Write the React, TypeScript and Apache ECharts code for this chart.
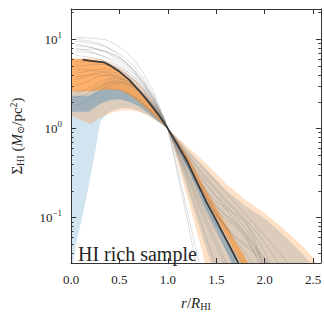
import React, { useEffect, useRef } from "react";
import * as echarts from "echarts";

// ---------- axes ----------
const X_MIN = 0;
const X_MAX = 2.58;
const X_TICKS = [0, 0.5, 1, 1.5, 2, 2.5];
const Y_MIN = 0.031;
const Y_MAX = 22;
const Y_MAJOR = [0.1, 1, 10];
const Y_MINOR = [0.04, 0.05, 0.06, 0.07, 0.08, 0.09, 0.2, 0.3, 0.4, 0.5, 0.6, 0.7, 0.8, 0.9, 2, 3, 4, 5, 6, 7, 8, 9, 20];

// ---------- bands (log10 Sigma_HI) ----------
const orangeWideX = [0, 0.1, 0.2, 0.3, 0.4, 0.5, 0.6, 0.7, 0.8, 0.9, 1.0, 1.1, 1.2, 1.3, 1.35, 1.4, 1.45, 1.6, 1.8, 2.0, 2.2, 2.4, 2.5, 2.56];
const orangeWideHi = [0.79, 0.79, 0.79, 0.78, 0.74, 0.68, 0.6, 0.51, 0.38, 0.22, 0.0, -0.1, -0.2, -0.3, -0.35, -0.4, -0.45, -0.62, -0.8, -0.95, -1.13, -1.33, -1.45, -1.6];
const orangeWideLo = [0.14, 0.1, 0.05, 0.12, 0.17, 0.2, 0.21, 0.19, 0.14, 0.07, 0.0, -0.38, -0.77, -1.16, -1.36, -1.6, -2.5, -2.5, -2.5, -2.5, -2.5, -2.5, -2.5, -2.5];

const blueWideX = [0, 0.05, 0.1, 0.15, 0.2, 0.25, 0.3, 0.35, 0.4, 0.5, 0.6, 0.7, 0.8, 0.9, 1.0, 1.1, 1.2, 1.3, 1.4, 1.45, 1.6, 1.8, 2.0, 2.2, 2.4, 2.5];
const blueWideHi = [0.43, 0.43, 0.43, 0.43, 0.44, 0.47, 0.5, 0.53, 0.56, 0.55, 0.5, 0.41, 0.29, 0.16, 0.0, -0.12, -0.24, -0.35, -0.46, -0.52, -0.69, -0.87, -1.01, -1.2, -1.42, -1.55];
const blueWideLo = [-1.7, -1.3, -1.07, -0.82, -0.54, -0.26, 0.07, 0.14, 0.19, 0.23, 0.23, 0.2, 0.15, 0.08, 0.0, -0.34, -0.68, -1.02, -1.36, -1.53, -2.5, -2.5, -2.5, -2.5, -2.5, -2.5];

const blueNarrowX = [0, 0.1, 0.18, 0.25, 0.3, 0.4, 0.5, 0.6, 0.7, 0.8, 0.9, 1.0, 1.1, 1.2, 1.3, 1.4, 1.5, 1.6, 1.7];
const blueNarrowHi = [0.37, 0.37, 0.37, 0.41, 0.43, 0.45, 0.44, 0.4, 0.33, 0.24, 0.13, 0.0, -0.18, -0.37, -0.6, -0.83, -1.03, -1.24, -1.45];
const blueNarrowLo = [0.19, 0.19, 0.19, 0.24, 0.28, 0.32, 0.33, 0.3, 0.25, 0.17, 0.08, 0.0, -0.23, -0.44, -0.68, -0.93, -1.14, -1.37, -1.6];

const orangeNarrowX = [0, 0.1, 0.2, 0.3, 0.4, 0.5, 0.6, 0.7, 0.8, 0.9, 1.0, 1.1, 1.2, 1.3, 1.4, 1.5, 1.6, 1.7, 1.8, 1.85];
const orangeNarrowHi = [0.78, 0.78, 0.775, 0.76, 0.71, 0.64, 0.55, 0.44, 0.31, 0.16, 0.0, -0.14, -0.3, -0.5, -0.7, -0.89, -1.08, -1.27, -1.45, -1.56];
const orangeNarrowLo = [0.42, 0.42, 0.42, 0.43, 0.44, 0.43, 0.38, 0.3, 0.2, 0.1, 0.0, -0.18, -0.37, -0.59, -0.8, -1.0, -1.2, -1.4, -1.6, -1.7];

// ---------- median ----------
const medianX = [0.12, 0.2, 0.34, 0.4, 0.5, 0.6, 0.7, 0.8, 0.9, 1.0, 1.1, 1.2, 1.3, 1.4, 1.5, 1.6, 1.7, 1.78];
const medianLog = [0.773, 0.76, 0.744, 0.71, 0.64, 0.55, 0.43, 0.3, 0.16, 0.0, -0.18, -0.37, -0.6, -0.83, -1.03, -1.24, -1.45, -1.62];

// ---------- individual profiles (log10 Sigma_HI on profileX) ----------
const profileX = [0.05, 0.15, 0.25, 0.35, 0.45, 0.55, 0.65, 0.75, 0.85, 0.95, 1.0, 1.1, 1.2, 1.3, 1.4, 1.5, 1.6, 1.7, 1.8, 1.9, 2.0, 2.1, 2.2, 2.3];
const prof01 = [1.02, 1.02, 1.01, 1.0, 0.95, 0.88, 0.77, 0.62, 0.42, 0.15, 0, -0.12, -0.24, -0.36, -0.48, -0.6, -0.72, -0.84, -0.96, -1.08, -1.2, -1.33, -1.46, -1.6];
const prof02 = [0.98, 0.97, 0.95, 0.92, 0.87, 0.8, 0.7, 0.56, 0.38, 0.14, 0, -0.15, -0.3, -0.44, -0.58, -0.7, -0.82, -0.92, -1.05, -1.2, -1.38, -1.6];
const prof03 = [0.93, 0.92, 0.9, 0.87, 0.82, 0.75, 0.66, 0.53, 0.36, 0.13, 0, -0.17, -0.34, -0.5, -0.64, -0.76, -0.86, -0.98, -1.12, -1.3, -1.55];
const prof04 = [0.9, 0.88, 0.85, 0.8, 0.74, 0.67, 0.58, 0.47, 0.32, 0.12, 0, -0.2, -0.38, -0.56, -0.72, -0.86, -0.98, -1.08, -1.2, -1.4, -1.6];
const prof05 = [0.86, 0.86, 0.84, 0.81, 0.77, 0.7, 0.61, 0.49, 0.33, 0.12, 0, -0.18, -0.36, -0.54, -0.7, -0.82, -0.9, -0.96, -1.05, -1.25, -1.6];
const prof06 = [0.82, 0.81, 0.79, 0.76, 0.72, 0.66, 0.58, 0.46, 0.31, 0.11, 0, -0.22, -0.44, -0.64, -0.82, -0.98, -1.12, -1.26, -1.4, -1.55];
const prof07 = [0.75, 0.76, 0.76, 0.74, 0.7, 0.64, 0.55, 0.44, 0.3, 0.11, 0, -0.2, -0.4, -0.6, -0.78, -0.92, -1.02, -1.1, -1.22, -1.42, -1.6];
const prof08 = [0.7, 0.71, 0.72, 0.72, 0.69, 0.63, 0.55, 0.44, 0.29, 0.1, 0, -0.24, -0.48, -0.7, -0.9, -1.08, -1.24, -1.4, -1.56];
const prof09 = [0.62, 0.64, 0.66, 0.67, 0.66, 0.62, 0.54, 0.43, 0.28, 0.1, 0, -0.19, -0.38, -0.58, -0.78, -0.96, -1.1, -1.22, -1.3, -1.36, -1.45, -1.6];
const prof10 = [0.55, 0.58, 0.62, 0.64, 0.63, 0.59, 0.52, 0.41, 0.27, 0.1, 0, -0.26, -0.52, -0.78, -1.02, -1.26, -1.5, -1.7];
const prof11 = [0.48, 0.52, 0.57, 0.6, 0.6, 0.57, 0.5, 0.4, 0.26, 0.09, 0, -0.3, -0.6, -0.92, -1.24, -1.56];
const prof12 = [0.4, 0.44, 0.5, 0.55, 0.57, 0.55, 0.49, 0.39, 0.26, 0.09, 0, -0.5, -1.02, -1.56];
const prof13 = [0.35, 0.38, 0.44, 0.5, 0.53, 0.52, 0.47, 0.38, 0.25, 0.09, 0, -0.45, -0.92, -1.4, -1.9];
const prof14 = [0.66, 0.66, 0.65, 0.63, 0.6, 0.55, 0.48, 0.39, 0.26, 0.09, 0, -0.22, -0.42, -0.62, -0.8, -0.96, -1.1, -1.22, -1.32, -1.4, -1.48, -1.56];
const prof15 = [0.95, 0.93, 0.9, 0.86, 0.8, 0.73, 0.63, 0.5, 0.34, 0.12, 0, -0.16, -0.32, -0.48, -0.62, -0.76, -0.9, -1.04, -1.18, -1.32, -1.46, -1.6];
const prof16 = [0.58, 0.6, 0.61, 0.6, 0.58, 0.54, 0.48, 0.39, 0.26, 0.09, 0, -0.28, -0.55, -0.82, -1.08, -1.32, -1.56];
const prof17 = [0.26, 0.3, 0.38, 0.46, 0.51, 0.51, 0.46, 0.37, 0.25, 0.09, 0, -0.25, -0.5, -0.74, -0.96, -1.16, -1.34, -1.52];
const prof18 = [1.0, 0.99, 0.97, 0.93, 0.86, 0.76, 0.64, 0.5, 0.33, 0.12, 0, -0.14, -0.28, -0.42, -0.55, -0.68, -0.8, -0.91, -1.02, -1.14, -1.28, -1.45, -1.62];
const prof19 = [0.88, 0.89, 0.89, 0.87, 0.83, 0.76, 0.66, 0.52, 0.35, 0.13, 0, -0.21, -0.41, -0.6, -0.76, -0.88, -0.97, -1.06, -1.18, -1.34, -1.55];
const profiles = [prof01, prof02, prof03, prof04, prof05, prof06, prof07, prof08, prof09, prof10, prof11, prof12, prof13, prof14, prof15, prof16, prof17, prof18, prof19];

const FONT = '"Liberation Serif", "DejaVu Serif", serif';
const INK = "#262626";
const BLUE = "#1f77b4";
const ORANGE = "#ff7f0e";

const toSigma = (l: number) => Math.pow(10, l);

function band(name: string, xs: number[], lo: number[], hi: number[], color: string, opacity: number, z: number) {
  const data = xs.map((x, i) => [x, toSigma(lo[i]), toSigma(hi[i])]);
  return {
    type: "custom",
    name,
    data,
    z,
    silent: true,
    clip: true,
    encode: { x: 0, y: [1, 2] },
    renderItem: (params: any, api: any) => {
      if (params.dataIndex !== 0) return null;
      const top = data.map((d) => api.coord([d[0], d[2]]));
      const bot = data.map((d) => api.coord([d[0], d[1]])).reverse();
      const cs = params.coordSys;
      return {
        type: "polygon",
        shape: { points: top.concat(bot) },
        style: { fill: color, opacity },
        clipPath: { type: "rect", shape: { x: cs.x, y: cs.y, width: cs.width, height: cs.height } },
      };
    },
  };
}

export default function App() {
  const ref = useRef<HTMLDivElement>(null);
  useEffect(() => {
    if (!ref.current) return;
    const chart = echarts.init(ref.current, undefined, { renderer: "svg" });
    const axisLine = { show: true, lineStyle: { color: "#333", width: 1 } };
    const yBase: any = { type: "log", logBase: 10, min: Y_MIN, max: Y_MAX, splitLine: { show: false }, z: 10 };
    const xBase: any = { type: "value", min: X_MIN, max: X_MAX, splitLine: { show: false }, z: 10 };
    const profileSeries = profiles.map((p, k) => ({
      type: "line",
      name: "p" + k,
      data: p.map((l, i) => [profileX[i], toSigma(l)]),
      showSymbol: false,
      symbol: "none",
      silent: true,
      z: 6,
      lineStyle: { color: "rgba(110,110,110,0.33)", width: 0.7 },
    }));
    chart.setOption({
      animation: false,
      textStyle: { fontFamily: FONT },
      grid: { left: 63, right: 3, top: 9, bottom: 48 },
      xAxis: [
        {
          ...xBase,
          position: "bottom",
          axisLine,
          axisTick: { show: true, inside: true, length: 5, customValues: X_TICKS, lineStyle: { color: "#333" } },
          axisLabel: {
            customValues: X_TICKS,
            formatter: (v: number) => v.toFixed(1),
            fontFamily: FONT,
            fontSize: 13,
            color: INK,
            margin: 10,
          },
          name: "{i|r}{t|/}{i|R}{s|HI}",
          nameLocation: "middle",
          nameGap: 31,
          nameTextStyle: {
            rich: {
              i: { fontFamily: FONT, fontSize: 15, fontStyle: "italic", color: INK },
              t: { fontFamily: FONT, fontSize: 15, color: INK },
              s: { fontFamily: FONT, fontSize: 10, color: INK, padding: [7, 0, 0, 0] },
            },
          },
        },
        {
          ...xBase,
          position: "top",
          axisLine,
          axisTick: { show: true, inside: true, length: 5, customValues: X_TICKS, lineStyle: { color: "#333" } },
          axisLabel: { show: false },
        },
      ],
      yAxis: [
        {
          ...yBase,
          position: "left",
          axisLine,
          axisTick: { show: true, inside: true, length: 5, customValues: Y_MAJOR, lineStyle: { color: "#333" } },
          axisLabel: {
            customValues: Y_MAJOR,
            margin: 9,
            formatter: (v: number) => {
              const e = Math.round(Math.log10(v));
              return "{b|10}{s|" + (e < 0 ? "\u2212" + -e : String(e)) + "}";
            },
            rich: {
              b: { fontFamily: FONT, fontSize: 13, color: INK },
              s: { fontFamily: FONT, fontSize: 9, color: INK, padding: [0, 0, 9, 0] },
            },
          },
          name: "{t|\u03a3}{s|HI}{t| (}{i|M}{s|\u2299}{t|/pc}{u|2}{t|)}",
          nameLocation: "middle",
          nameRotate: 90,
          nameGap: 45,
          nameTextStyle: {
            rich: {
              t: { fontFamily: FONT, fontSize: 15, color: INK },
              i: { fontFamily: FONT, fontSize: 15, fontStyle: "italic", color: INK },
              s: { fontFamily: FONT, fontSize: 10, color: INK, padding: [7, 0, 0, 0] },
              u: { fontFamily: FONT, fontSize: 10, color: INK, padding: [0, 0, 8, 0] },
            },
          },
        },
        {
          ...yBase,
          position: "left",
          axisLine: { show: false },
          axisTick: { show: true, inside: true, length: 2.5, customValues: Y_MINOR, lineStyle: { color: "#333" } },
          axisLabel: { show: false },
        },
        {
          ...yBase,
          position: "right",
          axisLine,
          axisTick: { show: true, inside: true, length: 5, customValues: Y_MAJOR, lineStyle: { color: "#333" } },
          axisLabel: { show: false },
        },
        {
          ...yBase,
          position: "right",
          axisLine: { show: false },
          axisTick: { show: true, inside: true, length: 2.5, customValues: Y_MINOR, lineStyle: { color: "#333" } },
          axisLabel: { show: false },
        },
      ],
      series: [
        band("blueWide", blueWideX, blueWideLo, blueWideHi, BLUE, 0.2, 2),
        band("orangeWide", orangeWideX, orangeWideLo, orangeWideHi, ORANGE, 0.23, 3),
        band("blueNarrow", blueNarrowX, blueNarrowLo, blueNarrowHi, BLUE, 0.32, 4),
        band("orangeNarrow", orangeNarrowX, orangeNarrowLo, orangeNarrowHi, ORANGE, 0.5, 5),
        ...profileSeries,
        {
          type: "line",
          name: "median",
          data: medianX.map((x, i) => [x, toSigma(medianLog[i])]),
          showSymbol: false,
          symbol: "none",
          silent: true,
          z: 7,
          lineStyle: { color: "#3a3a3a", width: 1.8 },
        },
      ],
      graphic: [
        {
          type: "text",
          left: 78,
          top: 244,
          z: 20,
          style: { text: "HI rich sample", font: '20px "Liberation Serif"', fill: INK },
        },
      ],
    });
    return () => chart.dispose();
  }, []);
  return <div ref={ref} style={{ position: "fixed", left: 0, top: 0, width: 324, height: 316, background: "#fff" }} />;
}
